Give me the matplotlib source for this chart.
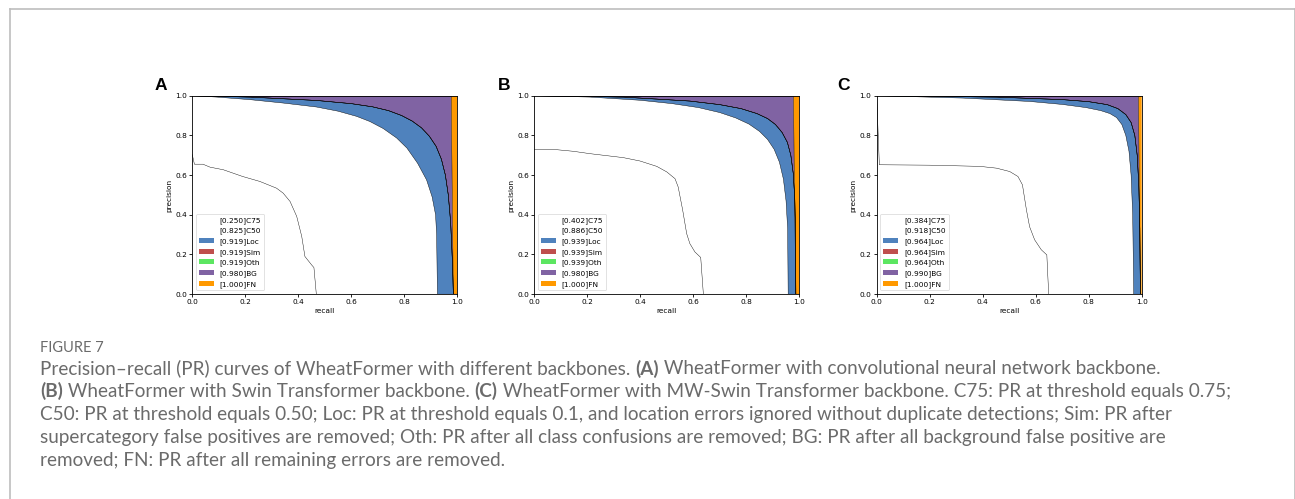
import numpy as np
import matplotlib
matplotlib.use('Agg')
import matplotlib.pyplot as plt
from matplotlib.lines import Line2D

# ---- data (recall, precision) ----
types = ['C75', 'C50', 'Loc', 'Sim', 'Oth', 'BG', 'FN']
letters = ['A', 'B', 'C']

aps_a = [0.250, 0.825, 0.919, 0.919, 0.919, 0.980, 1.000]
aps_b = [0.402, 0.886, 0.939, 0.939, 0.939, 0.980, 1.000]
aps_c = [0.384, 0.918, 0.964, 0.964, 0.964, 0.990, 1.000]

# panel A
c75_r_a = [0.0, 0.008, 0.04, 0.067, 0.117, 0.19, 0.255, 0.318, 0.343, 0.369, 0.394, 0.413, 0.425, 0.45, 0.459, 0.468]
c75_p_a = [0.703, 0.655, 0.655, 0.64, 0.627, 0.593, 0.568, 0.534, 0.509, 0.467, 0.392, 0.291, 0.19, 0.148, 0.134, 0.0]
c50_r_a = [0.0, 0.092, 0.218, 0.343, 0.469, 0.55, 0.62, 0.67, 0.72, 0.771, 0.81, 0.85, 0.884, 0.905, 0.918, 0.922, 0.925]
c50_p_a = [1.0, 0.993, 0.98, 0.963, 0.943, 0.922, 0.896, 0.87, 0.835, 0.787, 0.736, 0.66, 0.576, 0.49, 0.4, 0.3, 0.0]
loc_r_a = [0.0, 0.218, 0.469, 0.6, 0.68, 0.74, 0.79, 0.83, 0.865, 0.895, 0.92, 0.94, 0.955, 0.966, 0.975, 0.982, 0.985]
loc_p_a = [1.0, 0.993, 0.976, 0.96, 0.944, 0.925, 0.9, 0.872, 0.838, 0.795, 0.745, 0.68, 0.6, 0.5, 0.36, 0.15, 0.0]
bg_r_a = [0.0, 0.977, 0.981, 0.985]
bg_p_a = [1.0, 1.0, 0.5, 0.0]

# panel B
c75_r_b = [0.0, 0.084, 0.147, 0.21, 0.336, 0.399, 0.462, 0.5, 0.531, 0.543, 0.56, 0.575, 0.587, 0.606, 0.628, 0.638]
c75_p_b = [0.728, 0.728, 0.72, 0.708, 0.688, 0.671, 0.644, 0.616, 0.582, 0.54, 0.423, 0.305, 0.255, 0.213, 0.185, 0.0]
c50_r_b = [0.0, 0.21, 0.399, 0.52, 0.62, 0.7, 0.76, 0.81, 0.85, 0.88, 0.905, 0.925, 0.94, 0.95, 0.956, 0.958]
c50_p_b = [1.0, 0.993, 0.977, 0.96, 0.94, 0.915, 0.888, 0.857, 0.82, 0.78, 0.73, 0.665, 0.58, 0.47, 0.33, 0.0]
loc_r_b = [0.0, 0.336, 0.587, 0.7, 0.78, 0.84, 0.88, 0.91, 0.935, 0.955, 0.968, 0.977, 0.983, 0.986, 0.987]
loc_p_b = [1.0, 0.993, 0.973, 0.955, 0.935, 0.91, 0.885, 0.855, 0.815, 0.765, 0.7, 0.61, 0.48, 0.3, 0.0]
bg_r_b = [0.0, 0.978, 0.982, 0.987]
bg_p_b = [1.0, 1.0, 0.5, 0.0]

# panel C
c75_r_c = [0.0, 0.01, 0.2, 0.389, 0.452, 0.502, 0.533, 0.55, 0.565, 0.577, 0.596, 0.621, 0.642, 0.649]
c75_p_c = [1.0, 0.652, 0.65, 0.644, 0.635, 0.618, 0.593, 0.551, 0.425, 0.34, 0.274, 0.224, 0.198, 0.0]
c50_r_c = [0.0, 0.326, 0.577, 0.7, 0.79, 0.845, 0.88, 0.905, 0.925, 0.94, 0.952, 0.96, 0.966, 0.97]
c50_p_c = [1.0, 0.988, 0.971, 0.956, 0.94, 0.925, 0.91, 0.89, 0.855, 0.8, 0.72, 0.6, 0.4, 0.0]
loc_r_c = [0.0, 0.452, 0.703, 0.8, 0.87, 0.91, 0.94, 0.96, 0.974, 0.983, 0.989, 0.993, 0.995]
loc_p_c = [1.0, 0.993, 0.98, 0.97, 0.955, 0.935, 0.905, 0.865, 0.8, 0.7, 0.55, 0.33, 0.0]
bg_r_c = [0.0, 0.988, 0.991, 0.995]
bg_p_c = [1.0, 1.0, 0.5, 0.0]

fn_r = [0.0, 1.0]
fn_p = [1.0, 1.0]

caption_title = 'FIGURE 7'
caption_lines = [
    [('Precision–recall (PR) curves of WheatFormer with different backbones. ', False), ('(A)', True),
     (' WheatFormer with convolutional neural network backbone.', False)],
    [('(B)', True), (' WheatFormer with Swin Transformer backbone. ', False), ('(C)', True),
     (' WheatFormer with MW-Swin Transformer backbone. C75: PR at threshold equals 0.75;', False)],
    [('C50: PR at threshold equals 0.50; Loc: PR at threshold equals 0.1, and location errors ignored without duplicate detections; Sim: PR after', False)],
    [('supercategory false positives are removed; Oth: PR after all class confusions are removed; BG: PR after all background false positive are', False)],
    [('removed; FN: PR after all remaining errors are removed.', False)],
]

panels = [
    (aps_a, [(c75_r_a, c75_p_a), (c50_r_a, c50_p_a), (loc_r_a, loc_p_a), (loc_r_a, loc_p_a),
             (loc_r_a, loc_p_a), (bg_r_a, bg_p_a), (fn_r, fn_p)]),
    (aps_b, [(c75_r_b, c75_p_b), (c50_r_b, c50_p_b), (loc_r_b, loc_p_b), (loc_r_b, loc_p_b),
             (loc_r_b, loc_p_b), (bg_r_b, bg_p_b), (fn_r, fn_p)]),
    (aps_c, [(c75_r_c, c75_p_c), (c50_r_c, c50_p_c), (loc_r_c, loc_p_c), (loc_r_c, loc_p_c),
             (loc_r_c, loc_p_c), (bg_r_c, bg_p_c), (fn_r, fn_p)]),
]

cs = np.vstack([np.ones((2, 3)),
                np.array([0.31, 0.51, 0.74]),
                np.array([0.75, 0.31, 0.30]),
                np.array([0.36, 0.90, 0.38]),
                np.array([0.50, 0.39, 0.64]),
                np.array([1, 0.6, 0])])

s = 0.535  # reference panels are a scaled-down default matplotlib figure
plt.rcParams['font.size'] = 10 * s
plt.rcParams['axes.linewidth'] = 0.6
plt.rcParams['xtick.major.size'] = 3.5 * s
plt.rcParams['ytick.major.size'] = 3.5 * s
plt.rcParams['xtick.major.width'] = 0.6
plt.rcParams['ytick.major.width'] = 0.6
plt.rcParams['xtick.major.pad'] = 3.5 * s
plt.rcParams['ytick.major.pad'] = 3.5 * s

fig = plt.figure(figsize=(12.95, 4.99), dpi=100)
W, H = 1295.0, 499.0

ax_lefts = [192.3, 534.3, 876.7]
ax_w, ax_top, ax_bot = 265.0, 95.7, 294.2
letter_x = [155, 498, 837]


def closed(r, p):
    r = list(r)
    p = list(p)
    if r[-1] < 1.0:
        r.append(1.0)
        p.append(p[-1])
    return np.array(r), np.array(p)


for i, (aps, curves) in enumerate(panels):
    ax = fig.add_axes([ax_lefts[i] / W, 1 - ax_bot / H, ax_w / W, (ax_bot - ax_top) / H])
    prev_r, prev_p = np.array([0.0, 1.0]), np.array([0.0, 0.0])
    for k in range(len(types)):
        r, p = closed(*curves[k])
        ax.plot(r, p, color='k', linewidth=0.3)
        ax.fill(np.concatenate([r, prev_r[::-1]]), np.concatenate([p, prev_p[::-1]]),
                color=cs[k], linewidth=0, label='[%.3f]' % aps[k] + types[k])
        prev_r, prev_p = r, p
    ax.set_xlim(0, 1)
    ax.set_ylim(0, 1)
    ax.set_xlabel('recall', labelpad=4 * s)
    ax.set_ylabel('precision', labelpad=4 * s)
    leg = ax.legend(loc='lower left', frameon=True)
    leg.get_frame().set_linewidth(0.5)
    fig.text(letter_x[i] / W, 1 - 89.5 / H, letters[i], fontsize=12.5, fontweight='bold',
             family='Liberation Sans', va='baseline', ha='left')

# page frame
frame_c = '#bdbdbd'
fig.add_artist(Line2D([9.5 / W, 1294.5 / W], [1 - 8.5 / H, 1 - 8.5 / H], color=frame_c, lw=1.2))
fig.add_artist(Line2D([9.5 / W, 9.5 / W], [1 - 8.5 / H, 0], color=frame_c, lw=1.2))
fig.add_artist(Line2D([1294.5 / W, 1294.5 / W], [1 - 8.5 / H, 0], color=frame_c, lw=1.2))

# caption
renderer = fig.canvas.get_renderer()
cap_color = '#6b6b6b'
cap_fs = 13.6
cap_x = 40.0
fig.text(cap_x / W, 1 - 352 / H, caption_title, fontsize=10.5, color=cap_color, family='Lato',
         va='baseline')
y = 374.5
for line in caption_lines:
    x = cap_x
    for txt, bold in line:
        t = fig.text(x / W, 1 - y / H, txt, fontsize=cap_fs, color=cap_color, family='Lato',
                     fontweight='bold' if bold else 'normal', va='baseline')
        x += t.get_window_extent(renderer).width
    y += 22.8

fig.savefig('out.png', dpi=100)
